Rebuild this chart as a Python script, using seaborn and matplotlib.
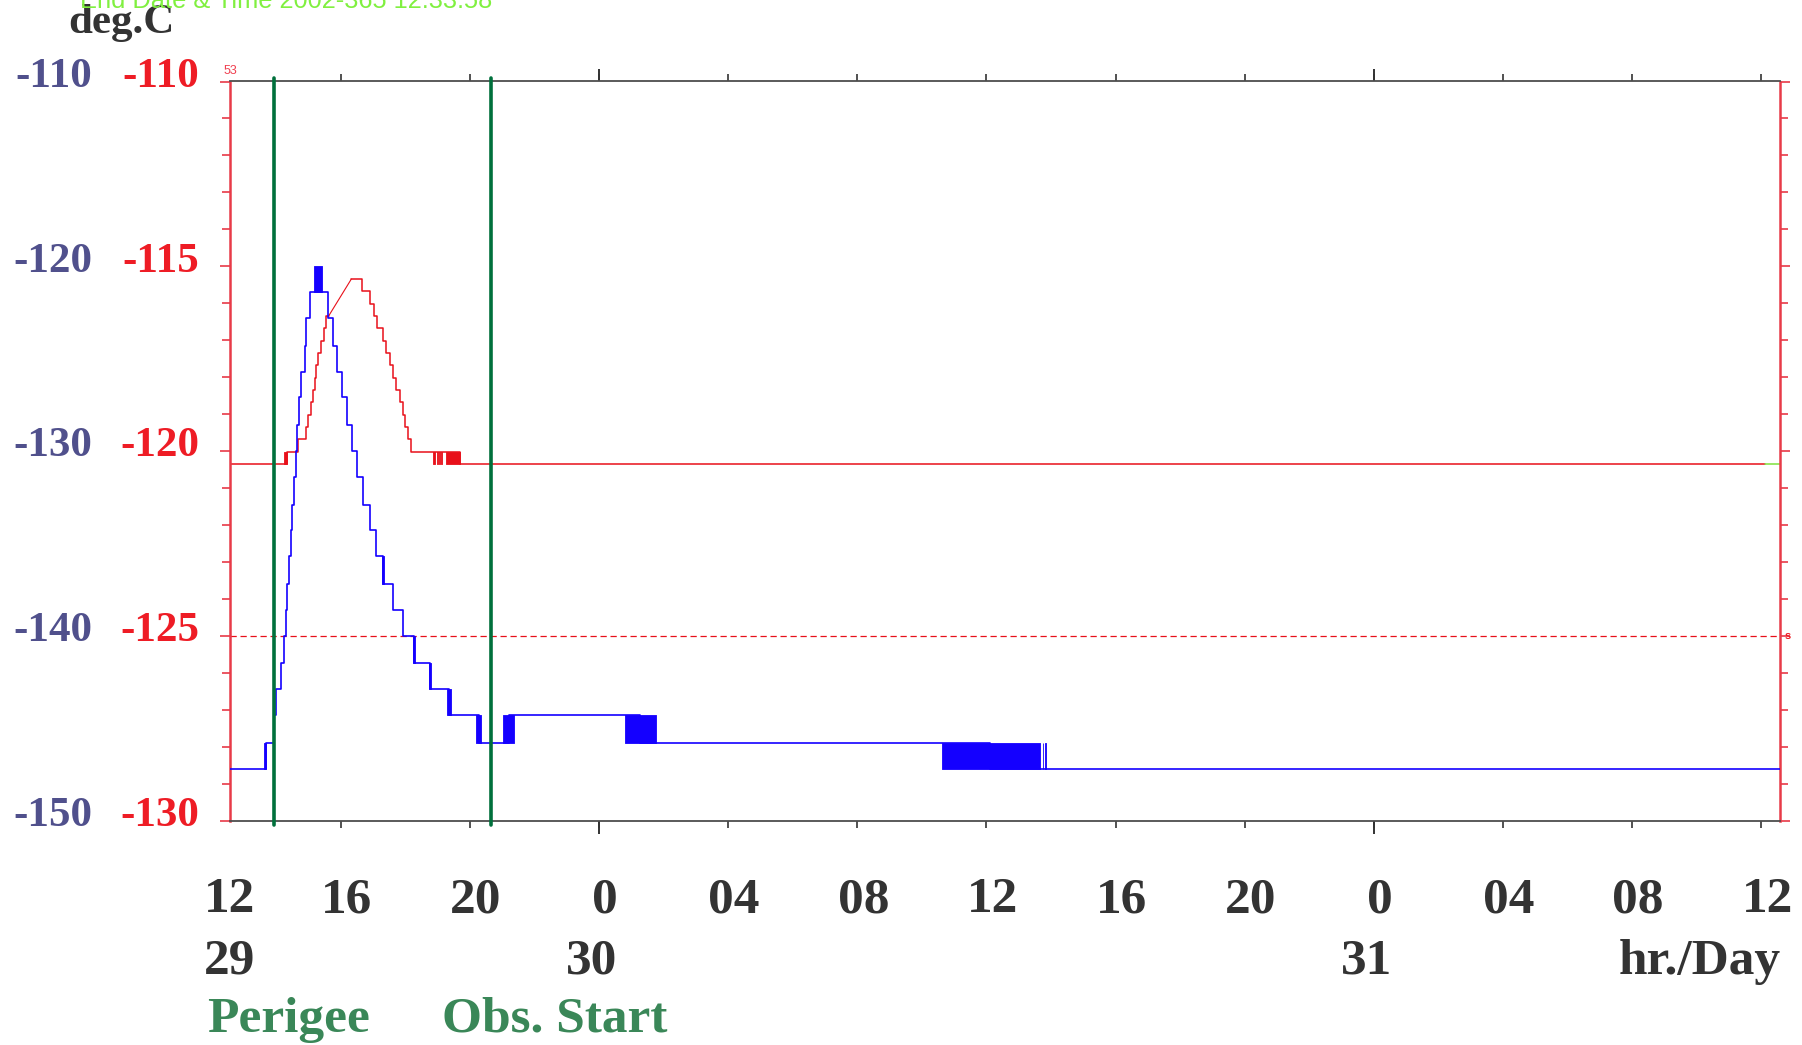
import numpy as np
import pandas as pd
import matplotlib
matplotlib.use("Agg")
import matplotlib.pyplot as plt
import matplotlib.transforms as mtransforms
from matplotlib.ticker import FixedLocator, MultipleLocator
import seaborn as sns

sns.set_style("white")
plt.rcParams["font.family"] = ["Liberation Serif", "DejaVu Serif"]

# ---------------- data (time = hours since 2002-12-29 00:00) ----------------
t_start = 12.566
t_end = 60.566

# blue sensor (left, outer scale -150..-110 deg.C), step data
blue_t = [12.567, 13.689, 13.915, 13.998, 14.132, 14.234, 14.287, 14.339, 14.389,
          14.441, 14.482, 14.544, 14.596, 14.649, 14.699, 14.773, 14.875, 14.928,
          15.030, 15.597, 15.744, 15.891, 16.038, 16.185, 16.332, 16.496, 16.682,
          16.889, 17.075, 17.317, 17.611, 17.921, 18.253, 18.748, 19.352, 20.266,
          21.196, 25.281, 36.100, 60.566]
blue_v = [-147.2, -145.8, -144.3, -142.9, -141.5, -140.0, -138.6, -137.2, -135.7,
          -134.3, -132.9, -131.4, -130.0, -128.6, -127.1, -125.7, -124.3, -122.8,
          -121.4, -122.8, -124.3, -125.7, -127.1, -128.6, -130.0, -131.4, -132.9,
          -134.3, -135.7, -137.2, -138.6, -140.0, -141.5, -142.9, -144.3, -145.8,
          -144.3, -145.8, -147.2, -147.2]
# blue rapid-toggle intervals (drawn as filled blocks)
blue_blk_t0 = [13.614, 15.163, 17.270, 18.231, 18.727, 19.284, 20.174, 21.019, 24.812, 34.621, 37.740, 37.815]
blue_blk_t1 = [13.689, 15.424, 17.350, 18.284, 18.779, 19.420, 20.350, 21.360, 25.751, 37.648, 37.760, 37.835]
blue_blk_lo = [-147.2, -121.4, -137.2, -141.5, -142.9, -144.3, -145.8, -145.8, -145.8, -147.2, -147.2, -147.2]
blue_blk_hi = [-145.8, -120.0, -135.7, -140.0, -141.5, -142.9, -144.3, -144.3, -144.3, -145.8, -145.8, -145.8]

# red sensor (inner scale -130..-110 deg.C), step data in two segments
red_t = [12.567, 14.339, 14.668, 14.928, 14.978, 15.083, 15.132, 15.185, 15.238,
         15.287, 15.393, 15.464, 15.548, 15.619,
         16.322, 16.651, 16.889, 17.013, 17.115, 17.301, 17.385, 17.509, 17.611,
         17.716, 17.840, 17.921, 17.974, 18.076, 18.181, 19.678, 60.130]
red_v = [-120.35, -120.02, -119.68, -119.35, -119.02, -118.68, -118.35, -118.02, -117.68,
         -117.35, -117.02, -116.68, -116.35, -116.35,
         -115.35, -115.68, -116.02, -116.35, -116.68, -117.02, -117.35, -117.68, -118.02,
         -118.35, -118.68, -119.02, -119.35, -119.68, -120.02, -120.35, -120.35]
red_seg = [0] * 14 + [1] * 17
red_gap_t = [15.619, 16.322]
red_gap_v = [-116.35, -115.35]
red_tail_t = [60.130, 60.566]
red_tail_v = [-120.35, -120.35]
red_blk_t0 = [14.225, 18.851, 18.980, 19.050, 19.105, 19.244]
red_blk_t1 = [14.339, 18.925, 18.995, 19.065, 19.120, 19.678]
red_blk_lo = [-120.35] * 6
red_blk_hi = [-120.02] * 6
red_limit = -125.0

event_t = [13.915, 20.638]
event_names = ["Perigee", "Obs. Start"]

red_ticks = [-130, -125, -120, -115, -110]
blue_ticks = [-150, -140, -130, -120, -110]
x_ticks = [t_start, 16, 20, 24, 28, 32, 36, 40, 44, 48, 52, 56, 60]
x_labels = ["12", "16", "20", "0", "04", "08", "12", "16", "20", "0", "04", "08", "12"]
day_t = [t_start, 24, 48]
day_labels = ["29", "30", "31"]
x_midnights = [24, 48]

# ---------------- colours ----------------
RED = "#ee1c25"
RED_AX = "#e83a48"
RED_LINE = "#e8101a"
BLUE = "#1400ff"
BLUE_LAB = "#50508c"
GREEN = "#00703c"
GREEN_TXT = "#3a8758"
DARK = "#333333"

W, H = 1802, 1045
fig = plt.figure(figsize=(W / 100, H / 100), dpi=100)
L, R, B, T = 230, 1779.5, 820.5, 81.5
ax = fig.add_axes([L / W, 1 - B / H, (R - L) / W, (B - T) / H])
ax2 = ax.twinx()

# red (inner scale) on ax
ax.axhline(red_limit, color=RED_LINE, lw=0.9, dashes=(5, 3))
df_red = pd.DataFrame({"t": red_t, "v": red_v, "seg": red_seg})
sns.lineplot(data=df_red, x="t", y="v", units="seg", estimator=None, sort=False,
             drawstyle="steps-post", color=RED_LINE, lw=1.1, ax=ax, legend=False)
sns.lineplot(x=red_gap_t, y=red_gap_v, estimator=None, sort=False,
             color=RED_LINE, lw=0.8, ax=ax)
sns.lineplot(x=red_tail_t, y=red_tail_v, estimator=None, sort=False,
             color="#7fe03c", lw=1.1, ax=ax)
for a0, a1, lo, hi in zip(red_blk_t0, red_blk_t1, red_blk_lo, red_blk_hi):
    ax.fill_between([a0, a1], [lo, lo], [hi, hi], color=RED_LINE, lw=0.6, edgecolor=RED_LINE)

# blue (outer scale) on ax2
df_blue = pd.DataFrame({"t": blue_t, "v": blue_v})
sns.lineplot(data=df_blue, x="t", y="v", estimator=None, sort=False,
             drawstyle="steps-post", color=BLUE, lw=1.2, ax=ax2)
for a0, a1, lo, hi in zip(blue_blk_t0, blue_blk_t1, blue_blk_lo, blue_blk_hi):
    ax2.fill_between([a0, a1], [lo, lo], [hi, hi], color=BLUE, lw=0.6, edgecolor=BLUE)

for et in event_t:
    ax2.axvline(et, ymin=-0.006, ymax=1.005, color=GREEN, lw=2.6, clip_on=False)

ax.set_xlim(t_start, t_end)
ax.set_ylim(-130, -110)
ax2.set_ylim(-150, -110)
for a in (ax, ax2):
    a.set_xlabel("")
    a.set_ylabel("")

# spines
for s in ("top", "bottom"):
    ax.spines[s].set_color("#4d4d4d")
    ax.spines[s].set_linewidth(1.3)
for s in ("left", "right"):
    ax.spines[s].set_color(RED_AX)
    ax.spines[s].set_linewidth(1.8)
for s in ax2.spines.values():
    s.set_visible(False)

lab_off = mtransforms.ScaledTranslation(0, 9 / 100, fig.dpi_scale_trans)

# red y axis
ax.set_yticks(red_ticks, labels=[str(v) for v in red_ticks])
ax.yaxis.set_minor_locator(MultipleLocator(1))
ax.tick_params(axis="y", which="both", left=True, right=True, direction="out",
               color=RED_AX, width=1.2)
ax.tick_params(axis="y", which="major", length=7, labelsize=31, labelcolor=RED, pad=15)
ax.tick_params(axis="y", which="minor", length=6)
for lab in ax.get_yticklabels():
    lab.set_fontweight("bold")
    lab.set_transform(lab.get_transform() + lab_off)

# blue y axis (labels far left)
ax2.set_yticks(blue_ticks, labels=[str(v) for v in blue_ticks])
ax2.yaxis.set_ticks_position("left")
ax2.yaxis.set_label_position("left")
ax2.tick_params(axis="y", which="both", left=True, right=False, labelleft=True,
                labelright=False, length=0, pad=99, labelsize=31, labelcolor=BLUE_LAB)
for lab in ax2.get_yticklabels():
    lab.set_fontweight("bold")
    lab.set_transform(lab.get_transform() + lab_off)

# x axis (hour row)
ax.set_xticks(x_ticks, labels=x_labels)
ax.xaxis.set_minor_locator(FixedLocator(x_midnights))
ax.xaxis.remove_overlapping_locs = False
ax.tick_params(axis="x", which="major", top=True, bottom=True, direction="out",
               length=5, width=1.2, color=DARK, labelsize=37, labelcolor=DARK, pad=36)
ax.tick_params(axis="x", which="minor", top=True, bottom=True, direction="out",
               length=9, width=1.4, color=DARK)
tk0 = ax.xaxis.get_major_ticks()[0]
tk0.tick1line.set_visible(False)
tk0.tick2line.set_visible(False)
x_off = mtransforms.ScaledTranslation(6 / 100, 0, fig.dpi_scale_trans)
for i, lab in enumerate(ax.get_xticklabels()):
    lab.set_fontweight("bold")
    if i > 0:
        lab.set_transform(lab.get_transform() + x_off)

# day row
day_tr = mtransforms.blended_transform_factory(ax.transData, fig.transFigure)
day_off = mtransforms.ScaledTranslation(-7 / 100, 0, fig.dpi_scale_trans)
for i, (dt, dl) in enumerate(zip(day_t, day_labels)):
    tr = day_tr if i == 0 else day_tr + day_off
    ax.text(dt, 1 - 974 / H, dl, transform=tr, ha="center", va="baseline",
            fontsize=37, fontweight="bold", color=DARK, clip_on=False)

# texts
fig.text(121 / W, 1 - 33 / H, "deg.C", ha="center", va="baseline", fontsize=31,
         fontweight="bold", color=DARK)
fig.text(80 / W, 1 - 8 / H, "End Date & Time 2002-365 12:33:58", ha="left", va="baseline",
         fontsize=18.3, color="#80f040", family=["Liberation Sans", "DejaVu Sans"])
fig.text(224 / W, 1 - 74 / H, "53", ha="left", va="baseline", fontsize=9,
         color="#f04050", family=["Liberation Sans", "DejaVu Sans"])
ax.text(1.003, red_limit, "s", transform=ax.get_yaxis_transform(), ha="left", va="center",
        fontsize=8, color=RED, fontweight="bold", family=["Liberation Sans", "DejaVu Sans"])
fig.text(1781 / W, 1 - 974 / H, "hr./Day", ha="right", va="baseline", fontsize=37,
         fontweight="bold", color=DARK)
fig.text(207 / W, 1 - 1032 / H, event_names[0], ha="left", va="baseline", fontsize=37,
         fontweight="bold", color=GREEN_TXT)
fig.text(442 / W, 1 - 1032 / H, event_names[1], ha="left", va="baseline", fontsize=37,
         fontweight="bold", color=GREEN_TXT)

fig.savefig("out.png", dpi=100, facecolor="white")
